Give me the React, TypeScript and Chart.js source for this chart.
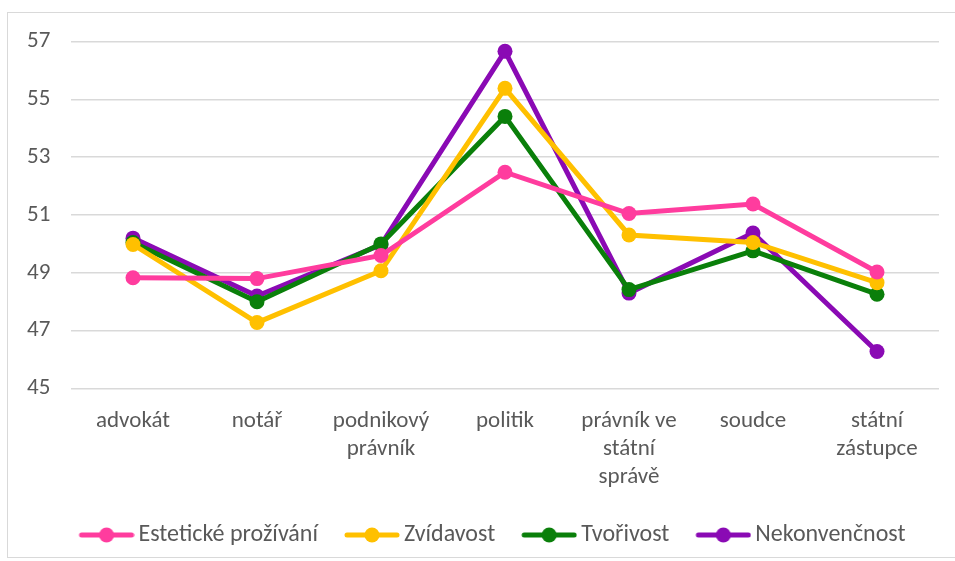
import React, { useEffect, useRef } from "react";
import { Chart, registerables } from "chart.js";

Chart.register(...registerables);

const categories: (string | string[])[] = [
  "advokát",
  "notář",
  ["podnikový", "právník"],
  "politik",
  ["právník ve", "státní", "správě"],
  "soudce",
  ["státní", "zástupce"],
];

const seriesNames = ["Estetické prožívání", "Zvídavost", "Tvořivost", "Nekonvenčnost"];
const esteticke = [48.83, 48.8, 49.6, 52.48, 51.05, 51.38, 49.03];
const zvidavost = [49.98, 47.28, 49.07, 55.38, 50.31, 50.05, 48.66];
const tvorivost = [50.05, 48.0, 50.0, 54.41, 48.42, 49.76, 48.26];
const nekonvencnost = [50.2, 48.2, 49.97, 56.66, 48.3, 50.38, 46.28];
const seriesColors = ["#FF3C9E", "#FFC000", "#0A7F0A", "#8A0AB4"];

const yMin = 45;
const yMax = 57;
const yStep = 2;

const FONT = "Carlito, Lato, 'Liberation Sans', sans-serif";
const TEXT = "#595959";

function makeLegendMarker(color: string): HTMLCanvasElement {
  const c = document.createElement("canvas");
  c.width = 72;
  c.height = 16;
  const ctx = c.getContext("2d")!;
  ctx.strokeStyle = color;
  ctx.lineWidth = 5;
  ctx.lineCap = "round";
  ctx.beginPath();
  ctx.moveTo(19, 8);
  ctx.lineTo(69, 8);
  ctx.stroke();
  ctx.fillStyle = color;
  ctx.beginPath();
  ctx.arc(44, 8, 7.5, 0, Math.PI * 2);
  ctx.fill();
  return c;
}

const legendShift = {
  id: "legendShift",
  beforeDraw(chart: any) {
    const l = chart.legend;
    if (l && !l._shifted) {
      l.left += 5;
      l.right += 5;
      l._shifted = true;
    }
  },
};

export default function App() {
  const ref = useRef<HTMLCanvasElement | null>(null);

  useEffect(() => {
    if (!ref.current) return;
    const values = [esteticke, zvidavost, tvorivost, nekonvencnost];
    const markers = seriesColors.map(makeLegendMarker);
    const chart = new Chart(ref.current, {
      type: "line",
      data: {
        labels: categories,
        datasets: values.map((v, i) => ({
          label: seriesNames[i],
          data: v,
          borderColor: seriesColors[i],
          backgroundColor: seriesColors[i],
          pointBackgroundColor: seriesColors[i],
          pointBorderColor: seriesColors[i],
          borderWidth: 5,
          pointRadius: 7.5,
          pointBorderWidth: 0,
          tension: 0,
          fill: false,
        })),
      },
      plugins: [legendShift],
      options: {
        responsive: false,
        animation: false,
        layout: { padding: { left: 19, right: 16, top: 28.5, bottom: 0 } },
        scales: {
          x: {
            offset: true,
            grid: { display: false, drawTicks: false },
            border: { display: false },
            ticks: {
              color: TEXT,
              font: { family: FONT, size: 23, lineHeight: 1.22 },
              padding: 19,
              maxRotation: 0,
              autoSkip: false,
            },
            afterFit: (s: any) => {
              s.height = 116.5;
            },
          },
          y: {
            min: yMin,
            max: yMax,
            grid: { color: "#D9D9D9", lineWidth: 1.5, drawTicks: false },
            border: { display: false },
            ticks: {
              stepSize: yStep,
              color: TEXT,
              font: { family: FONT, size: 23 },
              padding: 0,
              crossAlign: "far",
            },
            afterFit: (s: any) => {
              s.width = 44;
            },
          },
        },
        plugins: {
          tooltip: { enabled: false },
          legend: {
            position: "bottom",
            labels: {
              usePointStyle: true,
              pointStyleWidth: 56,
              boxHeight: 16,
              padding: 18,
              color: TEXT,
              font: { family: FONT, size: 24 },
              generateLabels: (c: any) => {
                const items = Chart.defaults.plugins.legend.labels.generateLabels(c);
                return items.map((it: any, i: number) => ({ ...it, pointStyle: markers[i] }));
              },
            },
          },
        },
      },
    });
    return () => chart.destroy();
  }, []);

  return (
    <div
      style={{
        position: "fixed",
        left: 7,
        top: 12,
        width: 960,
        height: 546,
        border: "1px solid #D9D9D9",
        boxSizing: "border-box",
        background: "#fff",
      }}
    >
      <canvas ref={ref} width={947} height={544} style={{ display: "block" }} />
    </div>
  );
}
